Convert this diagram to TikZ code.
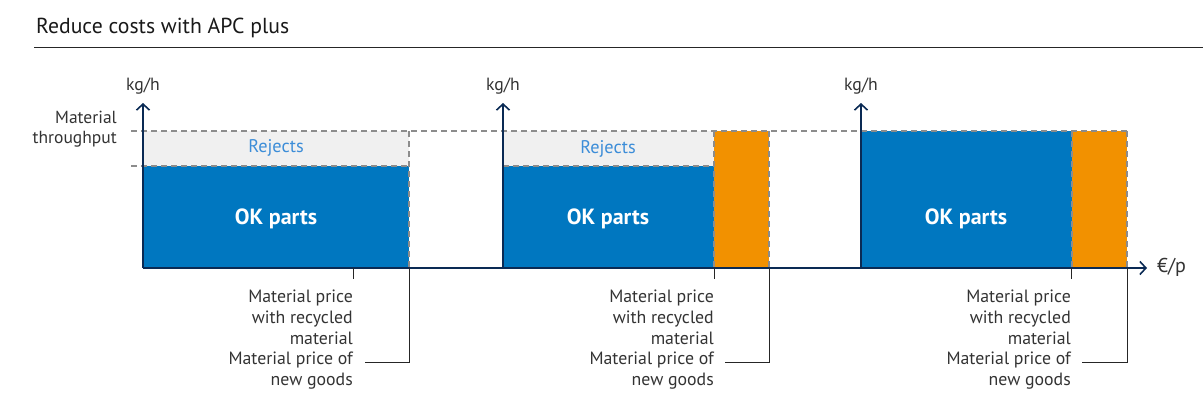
\documentclass[tikz,border=0pt]{standalone}
\usepackage{fontspec}
\setmainfont{PT Sans}
\usepackage{tikz}
\usetikzlibrary{arrows.meta,positioning}
\definecolor{okblue}{HTML}{0077C0}
\definecolor{rejgray}{HTML}{F0F0F0}
\definecolor{rejtext}{HTML}{3C8DD8}
\definecolor{neworange}{HTML}{F29100}
\definecolor{axisnavy}{HTML}{0A2A54}
\definecolor{txtgray}{HTML}{333333}
\definecolor{dashgray}{HTML}{8C8C8C}

\begin{document}
\begin{tikzpicture}[x=1pt,y=-1pt,
  axisline/.style={draw=axisnavy,line width=2.5pt},
  axisarrow/.style={-{Straight Barb[length=6pt,width=13pt,line width=1.6pt]}},
  guide/.style={draw=dashgray,line width=1.2pt,dash pattern=on 6pt off 4pt},
  tick/.style={draw=black!85,line width=1pt},
  unitlabel/.style={text=txtgray,inner sep=0pt,font=\fontsize{17.7}{20}\selectfont},
  pricelabel/.style={anchor=north east,align=right,text=txtgray,inner sep=0pt,
    font=\fontsize{17.8}{20.7}\selectfont},
  rejlabel/.style={text=rejtext,font=\fontsize{18.3}{20}\selectfont},
  oklabel/.style={text=white,font=\fontsize{22}{24}\selectfont\bfseries}]
\useasboundingbox (0,0) rectangle (1203,415);

% title
\node[anchor=base west,inner sep=0pt,text=black!90,font=\fontsize{21.7}{24}\selectfont] (title) at (36,33) {Reduce costs with APC plus};
\draw[black!85,line width=1pt] (34,47) -- (1203,47);

% bars
\fill[rejgray] (143,131) rectangle (409,166);
\fill[okblue] (143,166) rectangle (409,268);
\fill[rejgray] (503,131) rectangle (714,166);
\fill[okblue] (503,166) rectangle (714,268);
\fill[neworange] (714,131) rectangle (769,268);
\fill[okblue] (861,131) rectangle (1072,268);
\fill[neworange] (1072,131) rectangle (1127,268);

\node[rejlabel] (rej1) at (276,148) {Rejects};
\node[rejlabel] (rej2) at (608,149) {Rejects};
\node[oklabel] (ok1) at (276,219) {OK parts};
\node[oklabel] (ok2) at (608,219) {OK parts};
\node[oklabel] (ok3) at (966,219) {OK parts};

% dashed guides
\draw[guide] (131,131) -- (1127,131);
\draw[guide] (131,166) -- (409,166);
\draw[guide] (503,166) -- (714,166);
\draw[guide] (409,131) -- (409,268);
\draw[guide] (714,131) -- (714,268);
\draw[guide] (769,131) -- (769,268);
\draw[guide] (1072,131) -- (1072,268);
\draw[guide] (1127,131) -- (1127,268);

% axes
\coordinate (origin) at (143,268);
\coordinate (xend) at (1147,268);
\draw[axisline,axisarrow,line width=2pt] (origin) -- (xend);
\node[unitlabel,anchor=west,font=\fontsize{20}{22}\selectfont] (xlab) at (1157,267) {€/p};

\coordinate (ytop1) at (143,103);
\coordinate (ytop2) at (503,103);
\coordinate (ytop3) at (861,103);
\draw[axisline,axisarrow] (origin) -- (ytop1);
\draw[axisline,axisarrow] (503,268) -- (ytop2);
\draw[axisline,axisarrow] (861,268) -- (ytop3);
\node[unitlabel,above=9pt of ytop1] (ylab1) {kg/h};
\node[unitlabel,above=9pt of ytop2] (ylab2) {kg/h};
\node[unitlabel,above=9pt of ytop3] (ylab3) {kg/h};

\node[unitlabel,anchor=east,align=right,font=\fontsize{17.5}{19.5}\selectfont] (thru) at (117,129) {Material\\throughput};

% price markers
\coordinate (rec1) at (353,268);
\coordinate (rec2) at (714,268);
\coordinate (rec3) at (1071,268);
\coordinate (new1) at (409,268);
\coordinate (new2) at (769,268);
\coordinate (new3) at (1127,268);
\draw[tick] (rec1) -- ++(0,11);
\draw[tick] (rec2) -- ++(0,11);
\draw[tick] (rec3) -- ++(0,11);
\coordinate (lead1) at (365,362);
\coordinate (lead2) at (725,362);
\coordinate (lead3) at (1082,362);
\draw[tick] (new1) |- (lead1);
\draw[tick] (new2) |- (lead2);
\draw[tick] (new3) |- (lead3);

\node[pricelabel] (reclab1) at (353,290) {Material price\\with recycled\\material};
\node[pricelabel] (reclab2) at (714,290) {Material price\\with recycled\\material};
\node[pricelabel] (reclab3) at (1071,290) {Material price\\with recycled\\material};
\node[pricelabel] (newlab1) at (353,352) {Material price of\\new goods};
\node[pricelabel] (newlab2) at (714,352) {Material price of\\new goods};
\node[pricelabel] (newlab3) at (1071,352) {Material price of\\new goods};
\end{tikzpicture}
\end{document}
